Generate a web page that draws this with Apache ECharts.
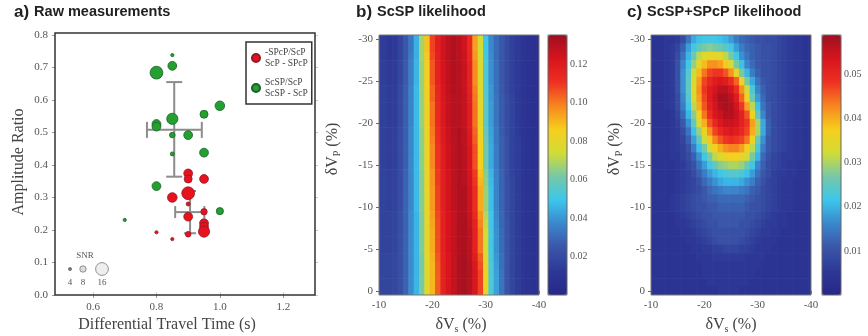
<!DOCTYPE html>
<html><head><meta charset="utf-8">
<script src="https://cdn.jsdelivr.net/npm/echarts@6/dist/echarts.min.js"></script>
<style>html,body{margin:0;padding:0;background:#fff}#c{width:868px;height:336px}</style>
</head><body><div id="c"></div>
<script>
// ---------- Panel a: raw measurements ----------
const greenName = 'ScSP/ScP\nScSP - ScP';
const redName = '-SPcP/ScP\nScP - SPcP';
const greenTime  = [0.85,0.85,0.80,1.00,0.95,0.85,0.80,0.80,0.85,0.90,0.85,0.95,0.80,1.00,0.70];
const greenRatio = [0.738,0.705,0.684,0.582,0.556,0.542,0.526,0.518,0.492,0.492,0.434,0.438,0.335,0.258,0.231];
const greenSNR   = [4,11,16,12,10,14,11,11,7,11,5,11,11,9,4];
const redTime    = [0.90,0.90,0.95,0.90,0.85,0.90,0.90,0.95,0.95,0.95,0.95,0.90,0.80,0.85];
const redRatio   = [0.374,0.357,0.357,0.313,0.300,0.280,0.241,0.256,0.221,0.210,0.195,0.187,0.193,0.172];
const redSNR     = [11,10,11,16,12,5,11,8,11,11,14,7,4,4];
// [meanTime, meanRatio, timeLow, timeHigh, ratioLow, ratioHigh]
const greenErr = [0.856, 0.508, 0.770, 0.943, 0.364, 0.655];
const redErr   = [0.906, 0.255, 0.859, 0.951, 0.190, 0.320];
const snrLegend = [4, 8, 16];
const timeTicks = [0.6, 0.8, 1.0, 1.2];
const ratioTicks = [0, 0.1, 0.2, 0.3, 0.4, 0.5, 0.6, 0.7, 0.8];

// ---------- Panels b, c: likelihood grids ----------
const dVs = [-10,-11,-12,-13,-14,-15,-16,-17,-18,-19,-20,-21,-22,-23,-24,-25,-26,-27,-28,-29,-30,-31,-32,-33,-34,-35,-36,-37,-38,-39,-40];
const dVp = [-30,-29,-28,-27,-26,-25,-24,-23,-22,-21,-20,-19,-18,-17,-16,-15,-14,-13,-12,-11,-10,-9,-8,-7,-6,-5,-4,-3,-2,-1,0];
const dVsTicks = [-10, -20, -30, -40];
const dVpTicks = [-30, -25, -20, -15, -10, -5, 0];
const scspTicks = [0.02, 0.04, 0.06, 0.08, 0.10, 0.12];
const jointTicks = [0.01, 0.02, 0.03, 0.04, 0.05];

// ScSP likelihood (x 1000), rows dVp = -30 ... 0, columns dVs = -10 ... -40
const scspLikelihood = [
[15,14,12,13,18,25,33,45,68,88,108,118,124,129,131,129,124,114,94,74,50,37,30,25,20,16,13,10,8,7,6],
[15,14,12,13,18,25,33,45,68,88,108,118,124,129,131,129,124,114,94,74,50,37,30,25,20,16,13,10,8,7,6],
[15,14,12,13,18,25,34,45,68,87,107,117,124,129,131,129,125,115,95,75,51,38,30,25,20,16,13,10,8,7,6],
[16,15,13,14,19,26,35,46,67,86,105,116,123,128,131,130,126,116,97,77,53,39,31,25,20,16,13,10,8,7,6],
[16,15,13,14,19,26,35,46,67,86,105,116,123,128,131,130,126,116,97,77,53,39,31,25,20,16,13,10,8,7,6],
[16,15,13,14,19,26,35,46,67,86,105,116,123,128,131,130,126,116,97,77,53,39,31,25,20,16,13,10,8,7,6],
[16,16,14,15,20,27,36,47,67,85,103,115,122,128,131,130,126,117,99,78,54,40,31,25,20,16,13,10,8,7,6],
[16,16,14,15,20,27,36,47,66,85,103,114,122,127,130,130,127,118,100,79,55,40,32,26,21,17,13,10,8,7,6],
[16,16,14,15,20,27,36,47,66,84,101,113,121,127,130,130,127,119,101,80,56,41,32,26,21,17,13,10,8,7,6],
[16,16,14,15,20,27,36,47,66,84,101,113,121,127,130,130,127,119,101,80,56,41,32,26,21,17,13,10,8,7,6],
[16,16,14,15,20,27,36,47,66,84,101,113,121,127,130,130,127,119,101,80,56,41,32,26,21,17,13,10,8,7,6],
[17,16,15,16,21,27,37,47,65,83,100,112,120,126,130,131,128,120,103,82,58,42,33,26,21,17,13,10,8,7,6],
[17,16,15,16,21,27,37,47,65,83,99,111,120,126,129,131,128,121,104,83,60,43,33,27,22,17,14,11,9,7,6],
[17,16,15,16,21,27,37,47,65,82,98,110,119,125,129,131,129,122,106,85,61,44,34,27,22,17,14,11,9,7,6],
[17,16,15,16,21,27,37,47,65,82,98,110,119,125,129,131,129,122,106,85,61,44,34,27,22,17,14,11,9,7,6],
[17,16,15,16,21,27,37,47,65,82,98,110,119,125,129,131,129,122,106,85,61,44,34,27,22,17,14,11,9,7,6],
[17,17,16,17,21,28,37,47,64,81,96,109,118,124,128,131,130,123,109,88,64,46,35,28,22,17,14,11,9,8,7],
[17,17,16,17,21,28,37,47,64,81,96,109,118,124,128,131,130,124,110,90,65,47,36,28,23,18,14,11,9,8,7],
[17,17,16,17,21,28,37,47,64,80,95,108,118,124,128,131,131,125,112,92,67,48,36,28,23,18,14,11,9,8,7],
[17,17,16,17,21,28,37,47,64,80,95,108,118,124,128,131,131,125,112,92,67,48,36,28,23,18,14,11,9,8,7],
[17,17,16,17,21,28,37,47,64,80,95,108,118,124,128,131,131,125,112,92,67,48,36,28,23,18,14,11,9,8,7],
[18,17,17,18,22,28,38,46,63,80,94,107,117,123,127,131,131,126,114,96,70,50,37,29,23,18,14,11,9,8,7],
[18,17,17,18,22,28,38,46,63,79,93,106,117,123,127,131,132,127,116,98,72,50,38,29,24,18,14,11,9,8,7],
[18,17,17,18,22,28,38,46,63,79,92,106,117,123,127,131,132,128,117,100,74,51,39,30,24,18,14,11,9,8,7],
[18,17,17,18,22,28,38,46,63,79,92,106,117,123,127,131,132,128,117,100,74,51,39,30,24,18,14,11,9,8,7],
[18,17,17,18,22,28,38,46,63,79,92,106,117,123,127,131,132,128,117,100,74,51,39,30,24,18,14,11,9,8,7],
[18,18,18,19,22,28,38,46,62,78,91,105,116,122,127,131,133,129,119,104,78,52,40,31,24,18,14,11,9,8,7],
[18,18,18,19,22,28,38,46,62,78,90,104,116,122,127,131,133,130,121,106,80,53,41,31,24,18,14,11,9,8,7],
[18,18,18,19,22,28,38,46,62,78,90,104,116,122,127,131,133,130,122,108,82,53,42,32,24,18,14,11,9,8,7],
[18,18,18,19,22,28,38,46,62,78,90,104,116,122,127,131,133,130,122,108,82,53,42,32,24,18,14,11,9,8,7],
[18,18,18,19,22,28,38,46,62,78,90,104,116,122,127,131,133,130,122,108,82,53,42,32,24,18,14,11,9,8,7]
];

// ScSP+SPcP likelihood (x 1000), rows dVp = -30 ... 0, columns dVs = -10 ... -40
const jointLikelihood = [
[4,4,4,5,5,6,9,14,19,21,22,22,22,21,20,18,15,13,12,11,10,10,9,9,8,7,6,5,5,4,4],
[4,4,4,5,6,8,12,18,22,25,27,28,27,26,24,22,18,15,13,12,11,10,10,9,8,7,6,5,5,4,4],
[4,4,4,5,6,9,14,20,26,31,34,35,35,34,31,27,22,17,14,12,11,10,10,9,8,7,6,5,5,4,4],
[4,4,4,5,6,10,16,22,29,35,39,42,42,41,38,33,27,21,16,13,11,10,10,9,8,7,6,5,5,4,4],
[4,4,4,5,6,10,17,24,32,39,44,47,48,48,46,42,35,27,20,15,12,10,10,9,8,7,6,5,5,4,4],
[4,4,4,5,6,10,17,25,33,41,47,50,52,53,52,49,45,37,27,19,14,11,10,9,8,7,6,5,5,4,4],
[4,4,4,5,6,10,17,25,34,42,48,52,54,56,56,54,49,42,32,23,16,12,10,9,8,7,6,5,5,4,4],
[4,4,4,5,6,9,16,24,33,41,47,52,55,58,58,56,52,45,36,26,18,13,10,9,8,7,6,5,5,4,4],
[4,4,4,5,6,9,15,22,31,40,46,51,54,57,58,57,54,48,41,31,21,14,11,9,8,7,6,5,5,4,4],
[4,4,4,4,5,8,13,20,28,37,44,49,53,55,57,57,55,51,46,36,25,16,11,9,8,7,6,5,5,4,4],
[4,4,4,4,5,7,11,17,25,33,40,46,50,53,55,55,54,51,48,41,30,19,12,9,8,7,6,5,5,4,4],
[4,4,4,4,5,6,9,14,21,29,36,42,47,50,52,53,52,50,47,40,30,19,12,9,8,7,6,5,5,4,4],
[4,4,4,4,5,6,8,12,18,25,32,38,43,46,48,49,48,47,44,36,26,17,11,9,8,7,6,5,5,4,4],
[4,4,4,4,5,6,7,10,15,21,27,33,37,40,42,43,43,41,37,31,23,15,11,9,8,7,6,5,5,4,4],
[4,4,4,4,5,5,7,9,12,17,22,27,31,34,36,37,37,35,32,27,20,13,10,8,7,6,6,5,5,4,4],
[4,4,4,4,4,5,6,8,10,14,18,22,25,28,29,30,30,29,26,22,16,12,9,8,7,6,5,5,4,4,4],
[4,4,4,4,4,5,6,7,9,12,15,18,20,22,23,24,24,23,21,18,14,11,9,7,6,6,5,5,4,4,4],
[4,4,4,4,4,5,6,7,8,10,13,15,17,19,20,20,20,19,17,15,12,10,8,7,6,5,5,4,4,4,4],
[4,4,4,4,4,5,6,7,8,9,11,13,14,15,16,16,16,15,14,12,11,9,8,7,6,5,5,4,4,4,4],
[4,4,4,4,5,6,7,8,9,10,11,12,12,13,13,13,13,13,12,11,10,9,8,7,6,5,5,4,4,4,4],
[4,4,4,4,5,6,7,8,9,10,10,11,11,12,12,12,12,12,11,10,10,9,8,7,6,5,5,4,4,4,4],
[4,4,4,4,4,5,6,7,8,9,10,10,11,11,11,11,11,11,10,10,9,8,7,6,5,5,4,4,4,4,4],
[4,4,4,4,4,5,5,6,7,8,9,10,10,11,11,11,11,10,10,9,8,7,6,6,5,5,4,4,4,4,4],
[4,4,4,4,4,4,5,5,6,7,8,9,10,10,10,10,10,10,9,8,7,6,6,5,5,4,4,4,4,4,4],
[4,4,4,4,4,4,4,5,5,6,7,8,9,10,10,10,10,9,8,7,6,5,5,5,4,4,4,4,4,4,4],
[4,4,4,4,4,4,4,4,5,5,6,6,7,7,8,8,8,7,7,6,5,5,5,4,4,4,4,4,4,4,4],
[4,4,4,4,4,4,4,4,4,5,5,5,6,6,6,6,6,6,5,5,5,5,4,4,4,4,4,4,4,4,4],
[4,4,4,4,4,4,4,4,4,4,5,5,5,5,5,5,5,5,5,5,5,4,4,4,4,4,4,4,4,4,4],
[4,4,4,4,4,4,4,4,4,4,5,5,5,5,5,5,5,5,5,5,4,4,4,4,4,4,4,4,4,4,4],
[4,4,4,4,4,4,4,4,4,4,4,5,5,5,5,5,5,5,5,4,4,4,4,4,4,4,4,4,4,4,4],
[4,4,4,4,4,4,4,4,4,4,4,4,4,5,5,5,5,4,4,4,4,4,4,4,4,4,4,4,4,4,4]
];

function checkGrid(name, rows) {
  if (rows.length !== dVp.length) throw new Error(name + ' has ' + rows.length + ' rows');
  rows.forEach((r, i) => { if (r.length !== dVs.length) throw new Error(name + ' row ' + i + ' has ' + r.length); });
}
checkGrid('scsp', scspLikelihood);
checkGrid('joint', jointLikelihood);

function cells(rows) {
  const out = [];
  rows.forEach((row, r) => row.forEach((v, c) => out.push([dVs[c], dVp[r], v / 1000])));
  return out;
}
function pts(t, a, s) { return t.map((x, i) => [x, a[i], s[i]]); }

const SERIF = "'Liberation Serif','DejaVu Serif',serif";
const SANS = "'Liberation Sans','DejaVu Sans',sans-serif";
const jet = ['#27278a','#2d3896','#3a55a8','#3a86cc','#3cc6ec','#74c8a8','#d2dc36','#f6cf1c','#f7861f','#ee3022','#d8141e','#9e1020'];

function cellRender(params, api) {
  const x = api.value(0), y = api.value(1);
  const p1 = api.coord([x - 0.5, y - 0.5]);
  const p2 = api.coord([x + 0.5, y + 0.5]);
  const cs = params.coordSys;
  const rect = echarts.graphic.clipRectByRect({
    x: Math.min(p1[0], p2[0]), y: Math.min(p1[1], p2[1]),
    width: Math.abs(p2[0] - p1[0]) + 0.6, height: Math.abs(p2[1] - p1[1]) + 0.6
  }, { x: cs.x, y: cs.y, width: cs.width, height: cs.height });
  return rect && { type: 'rect', shape: rect, style: { fill: api.visual('color') } };
}
function errRender(cap) {
  return function (params, api) {
    const m = api.coord([api.value(0), api.value(1)]);
    const xl = api.coord([api.value(2), api.value(1)]);
    const xh = api.coord([api.value(3), api.value(1)]);
    const yl = api.coord([api.value(0), api.value(4)]);
    const yh = api.coord([api.value(0), api.value(5)]);
    const st = { stroke: '#8c8c8c', lineWidth: 2 };
    const L = (a, b, c, d) => ({ type: 'line', shape: { x1: a, y1: b, x2: c, y2: d }, style: st });
    return { type: 'group', children: [
      L(xl[0], m[1], xh[0], m[1]), L(m[0], yl[1], m[0], yh[1]),
      L(xl[0], m[1] - cap / 2, xl[0], m[1] + cap / 2), L(xh[0], m[1] - cap / 2, xh[0], m[1] + cap / 2),
      L(m[0] - cap / 2, yl[1], m[0] + cap / 2, yl[1]), L(m[0] - cap / 2, yh[1], m[0] + cap / 2, yh[1])
    ] };
  };
}

const tickLbl = { fontFamily: SERIF, fontSize: 11, color: '#555' };
const barLbl = { fontFamily: SERIF, fontSize: 10, color: '#555' };
function heatX(gi) {
  return { gridIndex: gi, type: 'value', min: -40, max: -10, inverse: true,
    axisLine: { show: false }, splitLine: { show: false },
    axisTick: { customValues: dVsTicks, length: 3, lineStyle: { color: '#666' } },
    axisLabel: Object.assign({ customValues: dVsTicks, margin: 5 }, tickLbl) };
}
function heatY(gi) {
  return { gridIndex: gi, type: 'value', min: -30.5, max: 0.5, inverse: true,
    axisLine: { show: false }, splitLine: { show: false },
    axisTick: { customValues: dVpTicks, length: 3, lineStyle: { color: '#666' } },
    axisLabel: Object.assign({ customValues: dVpTicks, margin: 6 }, tickLbl) };
}
function barY(gi, max, ticks) {
  return { gridIndex: gi, type: 'value', min: 0, max: max, position: 'right',
    axisLine: { show: false }, splitLine: { show: false },
    axisTick: { customValues: ticks, length: 3, lineStyle: { color: '#666' } },
    axisLabel: Object.assign({ customValues: ticks, margin: 3, formatter: v => v.toFixed(2) }, barLbl) };
}
const hiddenX = gi => ({ gridIndex: gi, type: 'value', show: false, min: 0, max: 1 });

const chart = echarts.init(document.getElementById('c'));
const rich = {
  a: { fontFamily: SANS, fontSize: 17, fontWeight: 'bold', color: '#222' },
  t: { fontFamily: SANS, fontSize: 14.5, fontWeight: 'bold', color: '#222' }
};
const lblRich = {
  m: { fontFamily: SERIF, fontSize: 16, color: '#444', lineHeight: 18 },
  s: { fontFamily: SERIF, fontSize: 10, color: '#444', lineHeight: 7, verticalAlign: 'bottom' }
};
const gText = (x, y, text, rot) => ({ type: 'text', x: x, y: y, rotation: rot || 0,
  style: { text: text, rich: lblRich, align: 'center', verticalAlign: 'middle', fill: '#444' } });

chart.setOption({
  animation: false,
  backgroundColor: '#fff',
  title: [
    { text: '{a|a)} {t|Raw measurements}', left: 14, top: 3, padding: 0, textStyle: { rich } },
    { text: '{a|b)} {t|ScSP likelihood}', left: 356, top: 3, padding: 0, textStyle: { rich } },
    { text: '{a|c)} {t|ScSP+SPcP likelihood}', left: 627, top: 3, padding: 0, textStyle: { rich } }
  ],
  grid: [
    { left: 55, top: 33, width: 260, height: 262, show: true, borderColor: '#333', borderWidth: 1.5, backgroundColor: 'transparent', z: 10 },
    { left: 379, top: 35, width: 160, height: 260, show: true, borderColor: '#777', borderWidth: 1, backgroundColor: 'transparent', z: 10 },
    { left: 548, top: 35, width: 19, height: 260, show: true, borderColor: '#666', borderWidth: 1, backgroundColor: 'transparent', z: 10 },
    { left: 651, top: 35, width: 160, height: 260, show: true, borderColor: '#777', borderWidth: 1, backgroundColor: 'transparent', z: 10 },
    { left: 822, top: 35, width: 19, height: 260, show: true, borderColor: '#666', borderWidth: 1, backgroundColor: 'transparent', z: 10 }
  ],
  xAxis: [
    { gridIndex: 0, type: 'value', min: 0.48, max: 1.3, position: 'bottom',
      axisLine: { show: false }, splitLine: { show: false },
      axisTick: { customValues: timeTicks, length: 3, lineStyle: { color: '#999' } },
      axisLabel: Object.assign({ customValues: timeTicks, margin: 7, formatter: v => v.toFixed(1) }, tickLbl) },
    { gridIndex: 0, type: 'value', min: 0.48, max: 1.3, position: 'top',
      axisLine: { show: false }, splitLine: { show: false }, axisLabel: { show: false },
      axisTick: { customValues: timeTicks, length: 3, lineStyle: { color: '#ccc' } } },
    heatX(1), hiddenX(2), heatX(3), hiddenX(4)
  ],
  yAxis: [
    { gridIndex: 0, type: 'value', min: 0, max: 0.806,
      axisLine: { show: false }, splitLine: { show: false },
      axisTick: { customValues: ratioTicks, length: 3, lineStyle: { color: '#999' } },
      axisLabel: Object.assign({ customValues: ratioTicks, margin: 7, formatter: v => v.toFixed(1) }, tickLbl) },
    { gridIndex: 0, type: 'value', min: 0, max: 0.806, position: 'right',
      axisLine: { show: false }, splitLine: { show: false }, axisLabel: { show: false },
      axisTick: { customValues: ratioTicks, length: 3, lineStyle: { color: '#ccc' } } },
    heatY(1), barY(2, 0.135, scspTicks), heatY(3), barY(4, 0.059, jointTicks)
  ],
  legend: {
    data: [redName, greenName], orient: 'vertical', left: 246, top: 42,
    padding: [5, 4, 5, 5], itemGap: 8, itemWidth: 8, itemHeight: 8, icon: 'circle',
    borderColor: '#333', borderWidth: 1.5, backgroundColor: '#fff',
    textStyle: { fontFamily: SERIF, fontSize: 9.5, lineHeight: 11, color: '#444' }
  },
  visualMap: [
    { type: 'continuous', seriesIndex: 4, dimension: 2, min: 0, max: 0.135, left: 548, top: 35,
      itemWidth: 19, itemHeight: 260, padding: 0, calculable: false, text: null, inRange: { color: jet } },
    { type: 'continuous', seriesIndex: 5, dimension: 2, min: 0, max: 0.059, left: 822, top: 35,
      itemWidth: 19, itemHeight: 260, padding: 0, calculable: false, text: null, inRange: { color: jet } }
  ],
  series: [
    { type: 'custom', xAxisIndex: 0, yAxisIndex: 0, renderItem: errRender(16), data: [greenErr], z: 1, silent: true },
    { type: 'custom', xAxisIndex: 0, yAxisIndex: 0, renderItem: errRender(12), data: [redErr], z: 1, silent: true },
    { type: 'scatter', name: redName, xAxisIndex: 0, yAxisIndex: 0, data: pts(redTime, redRatio, redSNR),
      symbolSize: v => v[2] * 0.8, z: 3,
      itemStyle: { color: '#e8121c', borderColor: '#8e1a2c', borderWidth: 0.8, opacity: 1 } },
    { type: 'scatter', name: greenName, xAxisIndex: 0, yAxisIndex: 0, data: pts(greenTime, greenRatio, greenSNR),
      symbolSize: v => v[2] * 0.8, z: 3,
      itemStyle: { color: '#22a030', borderColor: '#1d5e2c', borderWidth: 0.8, opacity: 1 } },
    { type: 'custom', xAxisIndex: 2, yAxisIndex: 2, renderItem: cellRender, data: cells(scspLikelihood),
      encode: { x: 0, y: 1 }, silent: true },
    { type: 'custom', xAxisIndex: 4, yAxisIndex: 4, renderItem: cellRender, data: cells(jointLikelihood),
      encode: { x: 0, y: 1 }, silent: true }
  ],
  graphic: [
    gText(19, 162, '{m|Amplitude Ratio}', Math.PI / 2),
    gText(167, 325, '{m|Differential Travel Time (s)}'),
    gText(461, 325, '{m|δV}{s|s}{m| (%)}'),
    gText(333, 149, '{m|δV}{s|P}{m| (%)}', Math.PI / 2),
    gText(731, 325, '{m|δV}{s|s}{m| (%)}'),
    gText(615, 149, '{m|δV}{s|P}{m| (%)}', Math.PI / 2),
    { type: 'text', x: 85, y: 256, style: { text: 'SNR', font: '9px ' + SERIF, fill: '#555', align: 'center', verticalAlign: 'middle' } },
    { type: 'circle', shape: { cx: 70, cy: 269, r: snrLegend[0] * 0.4 }, style: { fill: '#777', stroke: '#555', lineWidth: 0.6 } },
    { type: 'circle', shape: { cx: 83, cy: 269, r: snrLegend[1] * 0.4 }, style: { fill: '#ddd', stroke: '#777', lineWidth: 0.8 } },
    { type: 'circle', shape: { cx: 102, cy: 269, r: snrLegend[2] * 0.4 }, style: { fill: '#eee', stroke: '#777', lineWidth: 0.8 } },
    { type: 'text', x: 70, y: 283, style: { text: String(snrLegend[0]), font: '9px ' + SERIF, fill: '#555', align: 'center', verticalAlign: 'middle' } },
    { type: 'text', x: 83, y: 283, style: { text: String(snrLegend[1]), font: '9px ' + SERIF, fill: '#555', align: 'center', verticalAlign: 'middle' } },
    { type: 'text', x: 102, y: 283, style: { text: String(snrLegend[2]), font: '9px ' + SERIF, fill: '#555', align: 'center', verticalAlign: 'middle' } }
  ]
});
</script>
</body></html>
